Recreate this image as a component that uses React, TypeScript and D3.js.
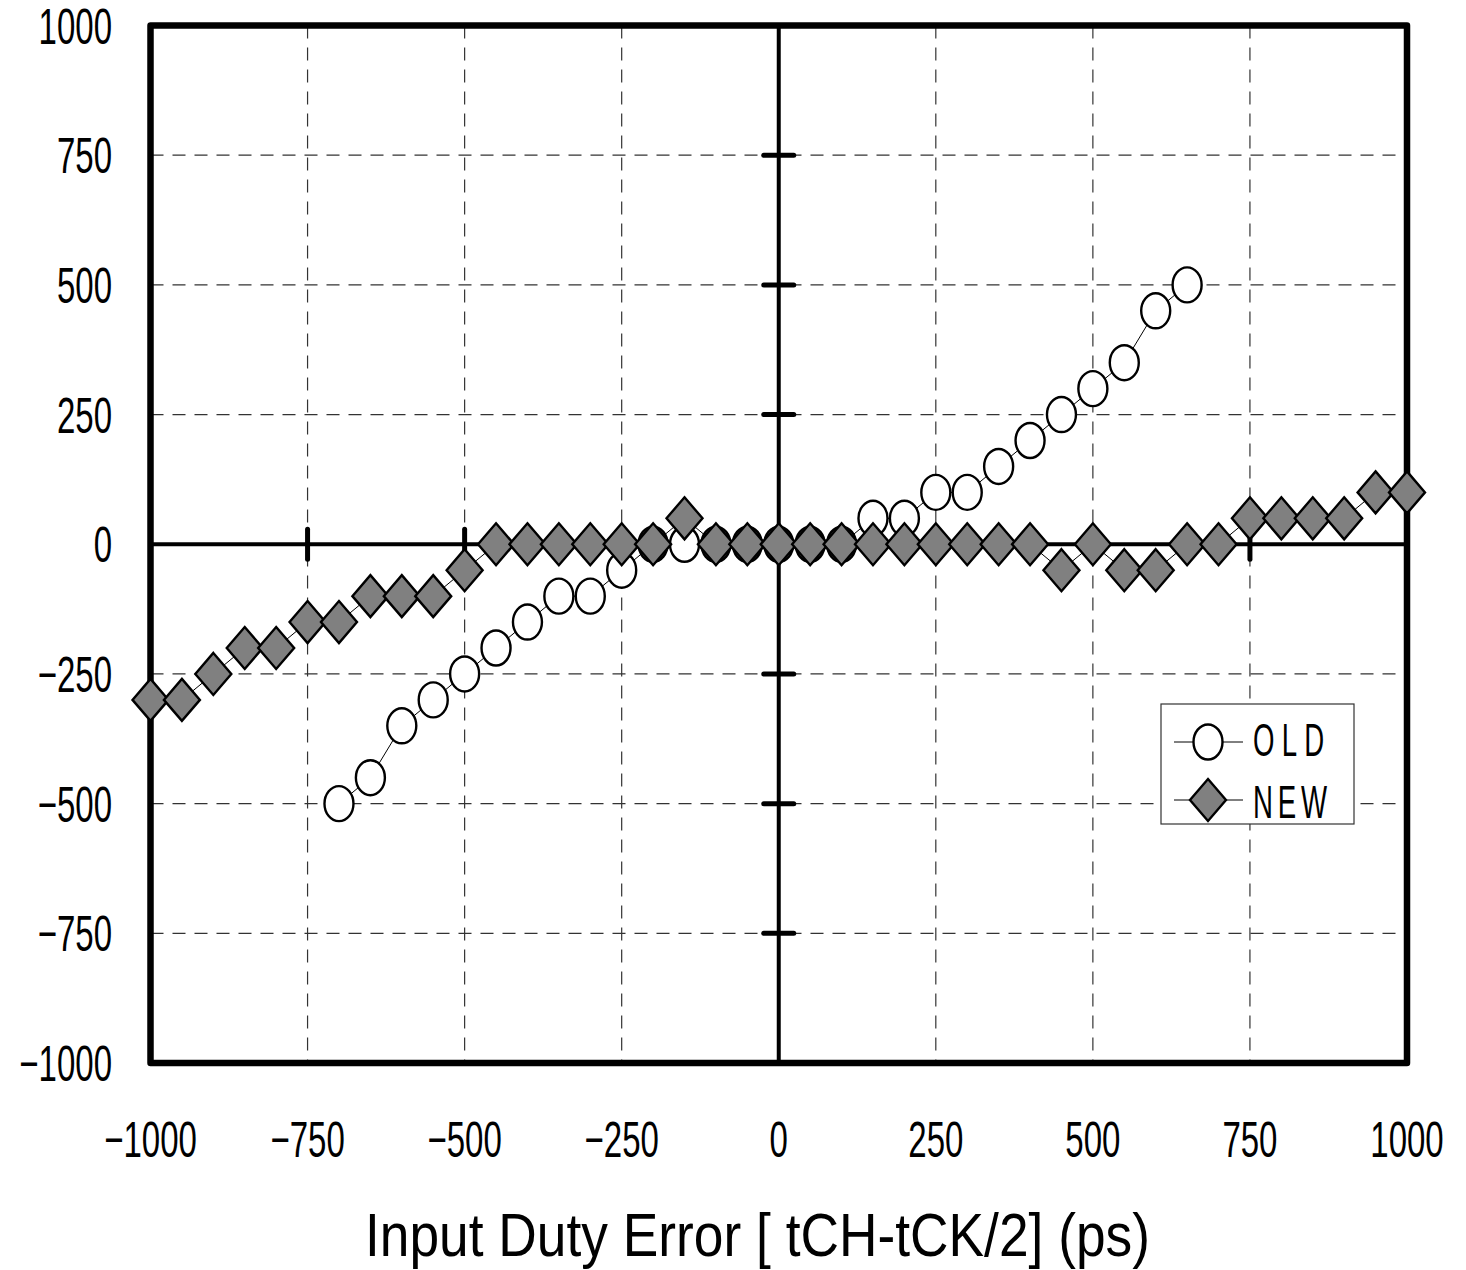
import React, { useRef, useEffect } from 'react';
import * as d3 from 'd3';

// x positions (ps), every 50 ps
const oldX = [-700, -650, -600, -550, -500, -450, -400, -350, -300, -250, -200, -150, -100, -50, 0, 50, 100, 150, 200, 250, 300, 350, 400, 450, 500, 550, 600, 650];
const oldY = [-500, -450, -350, -300, -250, -200, -150, -100, -100, -50, 0, 0, 0, 0, 0, 0, 0, 50, 50, 100, 100, 150, 200, 250, 300, 350, 450, 500];

const newX = [-1000, -950, -900, -850, -800, -750, -700, -650, -600, -550, -500, -450, -400, -350, -300, -250, -200, -150, -100, -50, 0, 50, 100, 150, 200, 250, 300, 350, 400, 450, 500, 550, 600, 650, 700, 750, 800, 850, 900, 950, 1000];
const newY = [-300, -300, -250, -200, -200, -150, -150, -100, -100, -100, -50, 0, 0, 0, 0, 0, 0, 50, 0, 0, 0, 0, 0, 0, 0, 0, 0, 0, 0, -50, 0, -50, -50, 0, 0, 50, 50, 50, 50, 100, 100];

const ticks = [-1000, -750, -500, -250, 0, 250, 500, 750, 1000];
const xTitle = "Input Duty Error [ tCH-tCK/2] (ps)";
const legendLabels = ["OLD", "NEW"];

const FONT = "'Liberation Sans', Arial, sans-serif";
const fmt = (v: number) => (v < 0 ? "\u2212" + Math.abs(v) : String(v));

export default function App() {
  const svgRef = useRef<SVGSVGElement>(null);

  useEffect(() => {
    const svg = d3.select(svgRef.current);
    svg.selectAll("*").remove();

    const x = d3.scaleLinear().domain([-1000, 1000]).range([150.5, 1407]);
    const y = d3.scaleLinear().domain([-1000, 1000]).range([1063, 25.5]);

    const inner = ticks.filter(t => Math.abs(t) !== 1000 && t !== 0);

    // dashed grid
    const grid = svg.append("g")
      .attr("stroke", "#333")
      .attr("stroke-width", 1.2)
      .attr("stroke-dasharray", "13,9");
    grid.selectAll("line.vx")
      .data(inner)
      .join("line")
      .attr("x1", d => x(d)).attr("x2", d => x(d))
      .attr("y1", y(1000)).attr("y2", y(-1000));
    grid.selectAll("line.hy")
      .data(inner)
      .join("line")
      .attr("class", "hy")
      .attr("y1", d => y(d)).attr("y2", d => y(d))
      .attr("x1", x(-1000)).attr("x2", x(1000));

    // zero axes
    svg.append("line")
      .attr("x1", x(-1000)).attr("x2", x(1000))
      .attr("y1", y(0)).attr("y2", y(0))
      .attr("stroke", "#000").attr("stroke-width", 4);
    svg.append("line")
      .attr("x1", x(0)).attr("x2", x(0))
      .attr("y1", y(1000)).attr("y2", y(-1000))
      .attr("stroke", "#000").attr("stroke-width", 4);

    svg.append("g")
      .attr("stroke", "#000").attr("stroke-width", 5).attr("stroke-linecap", "round")
      .selectAll("line")
      .data(inner)
      .join("line")
      .attr("x1", d => x(d)).attr("x2", d => x(d))
      .attr("y1", y(0) - 15).attr("y2", y(0) + 15);
    svg.append("g")
      .attr("stroke", "#000").attr("stroke-width", 5).attr("stroke-linecap", "round")
      .selectAll("line")
      .data(inner)
      .join("line")
      .attr("y1", d => y(d)).attr("y2", d => y(d))
      .attr("x1", x(0) - 15).attr("x2", x(0) + 15);

    // frame
    svg.append("rect")
      .attr("x", x(-1000)).attr("y", y(1000))
      .attr("width", x(1000) - x(-1000)).attr("height", y(-1000) - y(1000))
      .attr("fill", "none").attr("stroke", "#000").attr("stroke-width", 6.5)
      .attr("stroke-linejoin", "round");

    const line = d3.line<[number, number]>().x(d => x(d[0])).y(d => y(d[1]));
    const oldData: [number, number][] = oldX.map((v, i) => [v, oldY[i]]);
    const newData: [number, number][] = newX.map((v, i) => [v, newY[i]]);

    const diamond = (cx: number, cy: number) =>
      `M${cx},${cy - 21}L${cx + 18},${cy}L${cx},${cy + 21}L${cx - 18},${cy}Z`;

    // OLD series
    svg.append("path").datum(oldData).attr("d", line)
      .attr("fill", "none").attr("stroke", "#000").attr("stroke-width", 1);
    svg.append("g").selectAll("ellipse").data(oldData).join("ellipse")
      .attr("cx", d => x(d[0])).attr("cy", d => y(d[1]))
      .attr("rx", 14.5).attr("ry", 17.5)
      .attr("fill", "#fff").attr("stroke", "#000").attr("stroke-width", 2.4);

    // NEW series
    svg.append("path").datum(newData).attr("d", line)
      .attr("fill", "none").attr("stroke", "#000").attr("stroke-width", 1);
    svg.append("g").selectAll("path").data(newData).join("path")
      .attr("d", d => diamond(x(d[0]), y(d[1])))
      .attr("fill", "#808080").attr("stroke", "#000").attr("stroke-width", 2.4)
      .attr("stroke-linejoin", "miter");

    // y tick labels
    svg.append("g").selectAll("text").data(ticks).join("text")
      .attr("transform", d => `translate(112,${y(d)}) scale(0.66,1)`)
      .attr("text-anchor", "end").attr("dy", "0.36em")
      .attr("font-family", FONT).attr("font-size", 50)
      .text(d => fmt(d));

    // x tick labels
    svg.append("g").selectAll("text").data(ticks).join("text")
      .attr("transform", d => `translate(${x(d)},1157) scale(0.66,1)`)
      .attr("text-anchor", "middle")
      .attr("font-family", FONT).attr("font-size", 50)
      .text(d => fmt(d));

    // x title
    svg.append("text")
      .attr("x", 365).attr("y", 1256)
      .attr("textLength", 785).attr("lengthAdjust", "spacingAndGlyphs")
      .attr("font-family", FONT).attr("font-size", 62)
      .text(xTitle);

    // legend
    const lg = svg.append("g");
    lg.append("rect")
      .attr("x", 1161).attr("y", 704).attr("width", 193).attr("height", 120)
      .attr("fill", "#fff").attr("stroke", "#333").attr("stroke-width", 1.2);
    const rows = [742, 800];
    const base = [756, 818];
    rows.forEach((ry, i) => {
      lg.append("line")
        .attr("x1", 1174).attr("x2", 1243).attr("y1", ry).attr("y2", ry)
        .attr("stroke", "#000").attr("stroke-width", 1);
      if (i === 0) {
        lg.append("ellipse").attr("cx", 1208).attr("cy", ry).attr("rx", 14.5).attr("ry", 17.5)
          .attr("fill", "#fff").attr("stroke", "#000").attr("stroke-width", 2.4);
      } else {
        lg.append("path").attr("d", diamond(1208, ry))
          .attr("fill", "#808080").attr("stroke", "#000").attr("stroke-width", 2.4);
      }
      lg.append("text")
        .attr("transform", `translate(1253,${base[i]}) scale(0.6,1)`)
        .attr("letter-spacing", i === 0 ? 12 : 8)
        .attr("font-family", FONT).attr("font-size", 46)
        .text(legendLabels[i]);
    });
  }, []);

  return (
    <svg
      ref={svgRef}
      width={1466}
      height={1270}
      style={{ position: "absolute", left: 0, top: 0, background: "#fff" }}
    />
  );
}
